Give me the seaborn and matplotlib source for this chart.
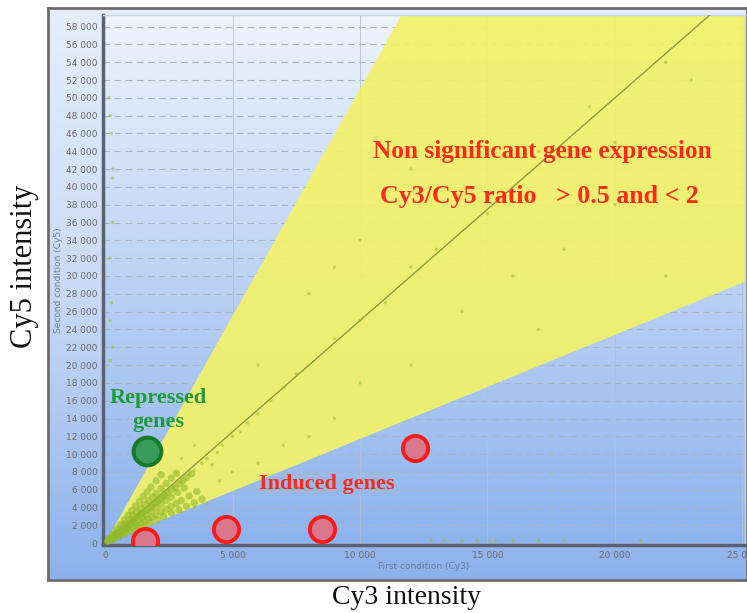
import numpy as np
import pandas as pd
import matplotlib
matplotlib.use("Agg")
import matplotlib.pyplot as plt
import seaborn as sns
from matplotlib.colors import LinearSegmentedColormap

sns.set_style("white")
plt.rcParams['font.family'] = ['DejaVu Sans']

# ---- data ----
# sparse spots, Cy3 (x) vs Cy5 (y)
spot_x = [2500, 2700, 3000, 3300, 3500, 3800, 4000, 4200, 4400, 4600, 5000, 5300, 5600,
          6000, 6500, 7000, 7500, 8000, 9000, 10000, 11000, 12000, 13000, 15000, 17000,
          19000, 22000,
          3000, 3500, 4000, 3000, 3500, 4500, 5000, 6000, 7000, 8000, 9000, 10000,
          12000, 14000, 16000, 18000, 20000, 6000, 8000, 10000, 9000, 15000, 12000, 20000,
          23000, 22000, 17000,
          200, 250, 300, 300, 300, 200, 250, 200, 300, 200, 150,
          12800, 13300, 14000, 14600, 15100, 15300, 16000, 17000, 18000, 21000]
spot_y = [6000, 6400, 7000, 7800, 8200, 9000, 9500, 8800, 10200, 11000, 12000, 12500, 13500,
          14500, 16000, 17500, 19000, 20000, 23000, 25000, 27000, 31000, 33000, 37000, 44000,
          49000, 54000,
          3500, 4000, 4500, 9500, 11000, 7000, 8000, 9000, 11000, 12000, 14000, 18000,
          20000, 26000, 30000, 33000, 38000, 20000, 28000, 34000, 31000, 45000, 42000, 45000,
          52000, 30000, 24000,
          48000, 46000, 42000, 41000, 36000, 32000, 27000, 25000, 22000, 20500, 50000,
          300, 300, 300, 300, 300, 300, 300, 300, 300, 300]

# dense spots near the origin
dense_x = [150, 250, 350, 450, 550, 650, 750, 850, 950, 1050, 1150, 1250, 1350, 1450, 1550,
           1650, 1750, 1850, 1950, 2050, 2150, 2250, 2350, 2450, 2600, 2750, 2900, 3050,
           3200, 3400,
           200, 350, 500, 650, 800, 950, 1100, 1250, 1400, 1550, 1700, 1850, 2000, 2200,
           2400, 2600, 2800, 3000, 3300, 3600,
           150, 300, 450, 600, 750, 900, 1050, 1200, 1350, 1500, 1650, 1800, 2000, 2200,
           100, 250, 400, 550, 700, 850, 1000, 1150, 1300, 1450, 1600, 1800, 2000, 2200,
           2400, 2600, 2850, 3100,
           200, 350, 500, 650, 800, 950, 1100, 1250, 1400, 1550, 1700, 1850, 2000, 2200,
           2400, 2600, 2800,
           300, 550, 800, 1050, 1300, 1550, 1800, 2050, 2300, 2600, 2900, 3200, 3500, 3800]
dense_y = [350, 600, 800, 1050, 1250, 1500, 1700, 2000, 2200, 2400, 2650, 2900, 3100, 3350,
           3550, 3800, 4000, 4250, 4500, 4700, 4950, 5200, 5400, 5650, 6000, 6300, 6700,
           7000, 7400, 7800,
           320, 560, 800, 1040, 1280, 1520, 1760, 2000, 2240, 2480, 2720, 2960, 3200, 3520,
           3840, 4160, 4480, 4800, 5300, 5800,
           520, 1050, 1580, 2100, 2620, 3150, 3670, 4200, 4720, 5250, 5770, 6300, 7000, 7700,
           200, 500, 800, 1100, 1400, 1700, 2000, 2300, 2600, 2900, 3200, 3600, 4000, 4400,
           4800, 5200, 5700, 6200,
           560, 980, 1400, 1820, 2240, 2660, 3080, 3500, 3920, 4340, 4760, 5180, 5600, 6150,
           6700, 7300, 7850,
           400, 720, 1050, 1370, 1700, 2000, 2350, 2650, 3000, 3400, 3750, 4150, 4550, 4950]

# ratio band (Cy5 / Cy3 slopes as drawn on the screen)
band_x = [0, 25100]
band_low_slope = 1.17
band_mid_slope = 2.5
band_high_slope = 5.1

# highlighted spots
induced_x = [1550, 4750, 8500, 12150]
induced_y = [200, 1550, 1550, 10700]
repressed_x = [1650]
repressed_y = [10300]

y_ticks = list(range(0, 58001, 2000))
x_ticks = [0, 5000, 10000, 15000, 20000, 25000]

spots = pd.DataFrame({"cy3": spot_x, "cy5": spot_y})
dense = pd.DataFrame({"cy3": dense_x, "cy5": dense_y})
induced = pd.DataFrame({"cy3": induced_x, "cy5": induced_y})
repressed = pd.DataFrame({"cy3": repressed_x, "cy5": repressed_y})


def fmt(v):
    return f"{v:,}".replace(",", " ")


W, H = 747, 613
fig = plt.figure(figsize=(W / 100, H / 100), dpi=100)

# outer panel with blue gradient
bg = fig.add_axes([48 / W, 33 / H, 1 - 48 / W, 572 / H])
grad_out = LinearSegmentedColormap.from_list("o", ["#8cb1ec", "#c9daf6", "#e6eefb"])
bg.imshow(np.linspace(0, 1, 256).reshape(-1, 1), cmap=grad_out, aspect="auto",
          extent=[0, 1, 0, 1], origin="lower")
bg.set_xticks([])
bg.set_yticks([])
for s in bg.spines.values():
    s.set_color("#6d6d6d")
    s.set_linewidth(2)

# plot area
ax = fig.add_axes([103 / W, 68 / H, 642 / W, 530 / H])
ax.patch.set_alpha(0)
grad_in = LinearSegmentedColormap.from_list("i", ["#8db3ee", "#bcd2f4", "#eef3fc"])
ax.imshow(np.linspace(0, 1, 256).reshape(-1, 1), cmap=grad_in, aspect="auto",
          extent=[0, 1, 0, 1], origin="lower", transform=ax.transAxes, zorder=0)

ax.set_xlim(-80, 25100)
ax.set_ylim(-200, 59300)

for yt in y_ticks:
    ax.axhline(yt, color="#a9b4c4", lw=0.8, ls=(0, (6, 4)), zorder=1)
for xt in x_ticks[1:]:
    ax.axvline(xt, color="#b4c0d0", lw=0.6, zorder=1)

bx = np.array(band_x, dtype=float)
ax.fill_between(bx, band_low_slope * bx, band_high_slope * bx,
                color="#f2f26a", alpha=0.93, lw=0, zorder=2)
ax.plot(bx, band_mid_slope * bx, color="#8f9a3c", lw=1.0, zorder=3)

sns.scatterplot(data=dense, x="cy3", y="cy5", ax=ax, color="#93b82a", s=28,
                alpha=0.6, edgecolor="none", zorder=4, legend=False)
sns.scatterplot(data=spots, x="cy3", y="cy5", ax=ax, color="#9bbb2c", s=6,
                alpha=0.55, edgecolor="none", zorder=4, legend=False)

sns.scatterplot(data=induced, x="cy3", y="cy5", ax=ax, color="#d9778c", s=330,
                edgecolor="#ff1a1a", linewidth=2.8, zorder=6, legend=False)
sns.scatterplot(data=repressed, x="cy3", y="cy5", ax=ax, color="#3a9a58", s=400,
                edgecolor="#137a2a", linewidth=2.8, zorder=6, legend=False)

ax.set_xticks(x_ticks)
ax.set_xticklabels([fmt(v) for v in x_ticks])
ax.set_yticks(y_ticks)
ax.set_yticklabels([fmt(v) for v in y_ticks])
ax.tick_params(axis="both", labelsize=6.5, colors="#6a6a6a", length=2, pad=2)
ax.set_xlabel("First condition (Cy3)", fontsize=6.5, color="#6a7a9a", labelpad=2)
ax.set_ylabel("Second condition (Cy5)", fontsize=6.5, color="#6a7a9a", labelpad=2)

for side in ["left", "bottom"]:
    ax.spines[side].set_color("#5a6270")
    ax.spines[side].set_linewidth(2.5)
for side in ["top", "right"]:
    ax.spines[side].set_color("#c8d4e6")
    ax.spines[side].set_linewidth(1)

serif = ["Liberation Serif", "DejaVu Serif"]
ax.text(0.685, 0.742, "Non significant gene expression", transform=ax.transAxes,
        ha="center", va="center", color="#ff2a1a", fontsize=18.2, fontweight="bold",
        family=serif, zorder=7)
ax.text(0.68, 0.658, "Cy3/Cy5 ratio   > 0.5 and < 2", transform=ax.transAxes,
        ha="center", va="center", color="#ff2a1a", fontsize=18.6, fontweight="bold",
        family=serif, zorder=7)
ax.text(0.086, 0.255, "Repressed\ngenes", transform=ax.transAxes, ha="center",
        va="center", color="#1e9a3a", fontsize=16, fontweight="bold", family=serif,
        linespacing=1.25, zorder=7)
ax.text(0.348, 0.115, "Induced genes", transform=ax.transAxes, ha="center",
        va="center", color="#ff2a1a", fontsize=16, fontweight="bold", family=serif,
        zorder=7)

fig.text(25 / W, 1 - 266 / H, "Cy5 intensity", rotation=90, ha="center", va="center",
         fontsize=22, family=serif, color="#111111")
fig.text(407 / W, 1 - 598 / H, "Cy3 intensity", ha="center", va="center",
         fontsize=20, family=serif, color="#111111")

fig.savefig("out.png", dpi=100)
